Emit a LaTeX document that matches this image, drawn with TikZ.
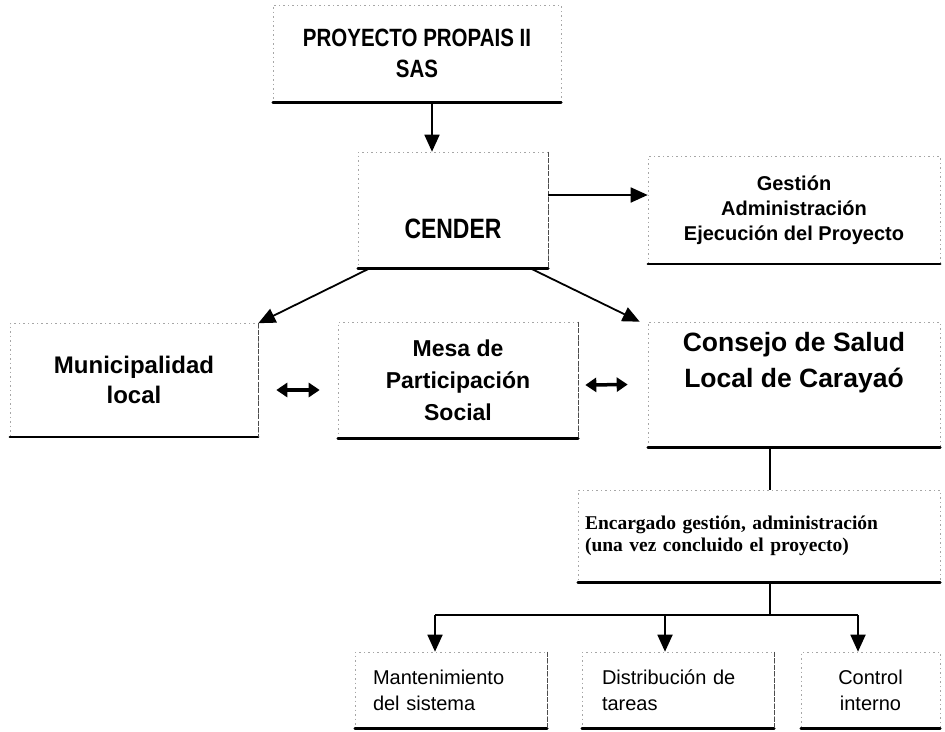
\documentclass[tikz,border=0pt]{standalone}
\usepackage{fontspec}
\setmainfont{Liberation Sans}
\newfontfamily\romana{Liberation Serif}
\newfontfamily\estrecha[FakeStretch=0.82]{Liberation Sans}
\usetikzlibrary{arrows.meta}

\tikzset{
  caja/.style={draw=black!35, line width=0.6pt, dash pattern=on 1.5pt off 3pt, inner sep=0pt, align=center},
  base/.style={line width=2.4pt, line cap=round},
  lado/.style={line width=1pt, black!70, dash pattern=on 5pt off 1.5pt},
  linea/.style={line width=1.8pt},
  flecha/.style={line width=1.8pt, -{Triangle[width=15pt,length=17pt]}},
  doble/.style={line width=3.5pt, {Triangle[width=14pt,length=11pt]}-{Triangle[width=14pt,length=11pt]}},
}

\begin{document}
\begin{tikzpicture}[x=1pt,y=-1pt]
\useasboundingbox (0,0) rectangle (945,731);

% Cajas superiores
\node[caja, minimum width=288, minimum height=97, font=\estrecha\bfseries\fontsize{25}{31}\selectfont] (proy) at (417,53.5) {PROYECTO PROPAIS II\\SAS};
\node[caja, minimum width=190, minimum height=116, text height=56pt, text depth=0pt, font=\estrecha\bfseries\fontsize{28}{30}\selectfont] (cender) at (453,210) {CENDER};
\node[caja, minimum width=292, minimum height=107, font=\bfseries\fontsize{20}{25}\selectfont] (gest) at (794,210) {Gestión\\Administración\\Ejecución del Proyecto};

% Cajas del medio
\node[caja, minimum width=248, minimum height=113, font=\bfseries\fontsize{24}{30}\selectfont] (muni) at (134,380) {Municipalidad\\local};
\node[caja, minimum width=240, minimum height=116, font=\bfseries\fontsize{23}{32}\selectfont] (mesa) at (458,380) {Mesa de\\Participación\\Social};
\node[caja, minimum width=292, minimum height=125, text height=50pt, text depth=45pt, font=\bfseries\fontsize{26.5}{36}\selectfont] (cons) at (794,384.5) {Consejo de Salud\\Local de Carayaó};
\node[caja, minimum width=362, minimum height=92, text width=348, align=left, font=\romana\bfseries\fontsize{19.5}{22}\selectfont] (enc) at (759,536) {Encargado gestión, administración\\(una vez concluido el proyecto)};

% Cajas inferiores
\node[caja, minimum width=192, minimum height=76, text width=156, align=left, font=\fontsize{20}{26}\selectfont] (mant) at (451,690) {Mantenimiento\\del sistema};
\node[caja, minimum width=192, minimum height=76, text width=152, align=left, font=\fontsize{20}{26}\selectfont] (dist) at (678,690) {Distribución de\\tareas};
\node[caja, minimum width=139, minimum height=76, font=\fontsize{20}{26}\selectfont] (ctrl) at (870.5,690) {Control\\interno};

% Bordes
\foreach \n in {proy,cender,gest,muni,mesa,cons,enc,mant,dist,ctrl}
  \draw[base] (\n.south west) -- (\n.south east);
\foreach \n in {cender,muni,mesa,mant,dist}
  \draw[lado] (\n.north east) -- (\n.south east);

% Flechas
\draw[flecha] ([xshift=15pt]proy.south) -- ([xshift=-21pt]cender.north);
\draw[flecha] ([yshift=15pt]cender.east) -- ([yshift=15pt]gest.west);
\draw[flecha] ([xshift=12pt]cender.south west) -- (muni.north east);
\draw[flecha] ([xshift=-18pt]cender.south east) -- ([xshift=-8pt]cons.north west);
\draw[doble] ([xshift=18pt,yshift=-10pt]muni.east) -- ([xshift=-18pt,yshift=-10pt]mesa.west);
\draw[doble] ([xshift=7pt,yshift=-5pt]mesa.east) -- ([xshift=-20pt]cons.west);

% Lineas hacia abajo
\coordinate (eje) at (770,0);
\coordinate (p1) at (435,615);
\coordinate (p2) at (665,615);
\coordinate (p3) at (858,615);
\draw[linea] (cons.south -| eje) -- (enc.north -| eje);
\draw[linea] (enc.south -| eje) -- (eje |- p1);
\draw[linea] (p1) -- (p3);
\foreach \p/\n in {p1/mant,p2/dist,p3/ctrl}
  \draw[flecha] (\p) -- (\p |- \n.north);

\end{tikzpicture}
\end{document}
